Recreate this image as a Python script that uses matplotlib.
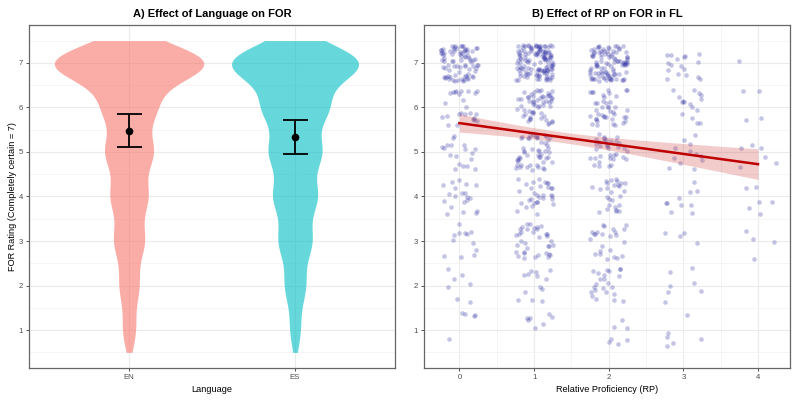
"""Two-panel figure: FOR ratings by language (violins) and by relative proficiency."""

import numpy as np
import matplotlib
matplotlib.use('Agg')
import matplotlib.pyplot as plt
from matplotlib.ticker import MultipleLocator

plt.rcParams['font.family'] = ['Liberation Sans', 'DejaVu Sans']

# ---- data -----------------------------------------------------------------
ratings = [1, 2, 3, 4, 5, 6, 7]
languages = ['EN', 'ES']
lang_colors = ['#F8766D', '#00BFC4']
# rating counts per language
en_counts = [6, 9, 14, 17, 22, 24, 73]
es_counts = [5, 10, 16, 21, 25, 31, 64]
# mean and 95% CI per language
lang_means = [5.48, 5.33]
lang_ci_low = [5.10, 4.95]
lang_ci_high = [5.86, 5.71]

# panel B: counts of responses per relative proficiency level and rating (1..7)
rp_levels = [0, 1, 2, 3, 4]
rp_counts = {
    0: [5, 7, 12, 20, 18, 25, 80],
    1: [7, 13, 36, 32, 50, 56, 125],
    2: [7, 23, 24, 27, 35, 42, 98],
    3: [6, 7, 4, 10, 12, 16, 17],
    4: [0, 0, 4, 6, 6, 4, 1],
}

# ---- figure ---------------------------------------------------------------
fig = plt.figure(figsize=(8, 4), dpi=100)
ax1 = fig.add_axes([0.0368, 0.08, 0.4565, 0.8575])
ax2 = fig.add_axes([0.5304, 0.08, 0.4572, 0.8575])

grid_col = '#EBEBEB'
tick_col = '#4D4D4D'


def style_axes(ax):
    ax.set_axisbelow(True)
    for s in ax.spines.values():
        s.set_color('#666666')
        s.set_linewidth(0.9)
    ax.tick_params(which='major', length=2.5, width=0.6, color='#333333',
                   labelsize=5.6, labelcolor=tick_col, pad=2)
    ax.tick_params(which='minor', length=0)
    ax.grid(which='major', color=grid_col, linewidth=0.8)
    ax.grid(which='minor', color='#F2F2F2', linewidth=0.5)


def hash01(k, salt):
    """Deterministic integer hash of an index -> [0, 1), used for jitter."""
    h = (k * 2654435761 + salt * 40503) & 0xFFFFFFFF
    h ^= h >> 16
    h = (h * 0x45D9F3B) & 0xFFFFFFFF
    h ^= h >> 16
    h = (h * 0x45D9F3B) & 0xFFFFFFFF
    h ^= h >> 16
    return h / 2.0 ** 32


# ---- panel A: violins -----------------------------------------------------
yy = np.linspace(0.5, 7.5, 400)
bw = 0.42
dens = []
for counts in [en_counts, es_counts]:
    w = np.array(counts, float)
    r = np.array(ratings, float)
    d = (w[:, None] * np.exp(-0.5 * ((yy[None, :] - r[:, None]) / bw) ** 2)).sum(0)
    d = d / (w.sum() * bw * np.sqrt(2 * np.pi))
    dens.append(d)
scale = 0.45 / max(d.max() for d in dens)

for i, (d, col) in enumerate(zip(dens, lang_colors)):
    pos = i + 1
    ax1.fill_betweenx(yy, pos - d * scale, pos + d * scale, color=col,
                      alpha=0.6, linewidth=0, zorder=2)

pos = np.arange(1, len(languages) + 1)
means = np.array(lang_means)
err = [means - np.array(lang_ci_low), np.array(lang_ci_high) - means]
ax1.errorbar(pos, means, yerr=err, fmt='o', color='black', markersize=4.5,
             elinewidth=1.3, capsize=9, capthick=1.3, zorder=4)

ax1.set_xlim(0.4, 2.6)
ax1.set_ylim(0.15, 7.85)
ax1.set_xticks(pos)
ax1.set_xticklabels(languages)
ax1.yaxis.set_major_locator(MultipleLocator(1))
ax1.yaxis.set_minor_locator(MultipleLocator(0.5))
style_axes(ax1)
ax1.set_xlabel('Language', fontsize=6.6, labelpad=3)
ax1.set_ylabel('FOR Rating (Completely certain = 7)', fontsize=6.6, labelpad=1.5)
ax1.set_title('A) Effect of Language on FOR', fontsize=8, fontweight='bold', pad=6)

# ---- panel B: jittered points + linear fit --------------------------------
xs, ys, raw_x, raw_y = [], [], [], []
k = 0
for rp in rp_levels:
    for rating, n in zip(ratings, rp_counts[rp]):
        for _ in range(n):
            k += 1
            xs.append(rp + (hash01(k, 1) - 0.5) * 0.5)
            ys.append(rating + (hash01(k, 2) - 0.5) * 0.8)
            raw_x.append(rp)
            raw_y.append(rating)

ax2.scatter(xs, ys, s=11, color='#2828A0', alpha=0.27, linewidths=0, zorder=2)

raw_x = np.array(raw_x, float)
raw_y = np.array(raw_y, float)
n = len(raw_x)
slope, intercept = np.polyfit(raw_x, raw_y, 1)
resid = raw_y - (intercept + slope * raw_x)
s = np.sqrt((resid ** 2).sum() / (n - 2))
xbar = raw_x.mean()
sxx = ((raw_x - xbar) ** 2).sum()
xf = np.linspace(raw_x.min(), raw_x.max(), 80)
yf = intercept + slope * xf
se = s * np.sqrt(1.0 / n + (xf - xbar) ** 2 / sxx)
ax2.fill_between(xf, yf - 1.96 * se, yf + 1.96 * se, color='#CC3333',
                 alpha=0.25, linewidth=0, zorder=3)
ax2.plot(xf, yf, color='#BE0000', linewidth=1.8, zorder=4)

ax2.set_xlim(-0.47, 4.43)
ax2.set_ylim(0.15, 7.85)
ax2.xaxis.set_major_locator(MultipleLocator(1))
ax2.xaxis.set_minor_locator(MultipleLocator(0.5))
ax2.yaxis.set_major_locator(MultipleLocator(1))
ax2.yaxis.set_minor_locator(MultipleLocator(0.5))
style_axes(ax2)
ax2.set_xlabel('Relative Proficiency (RP)', fontsize=6.6, labelpad=3)
ax2.set_title('B) Effect of RP on FOR in FL', fontsize=8, fontweight='bold', pad=6)

fig.savefig('out.png', dpi=100, facecolor='white')
plt.close(fig)
